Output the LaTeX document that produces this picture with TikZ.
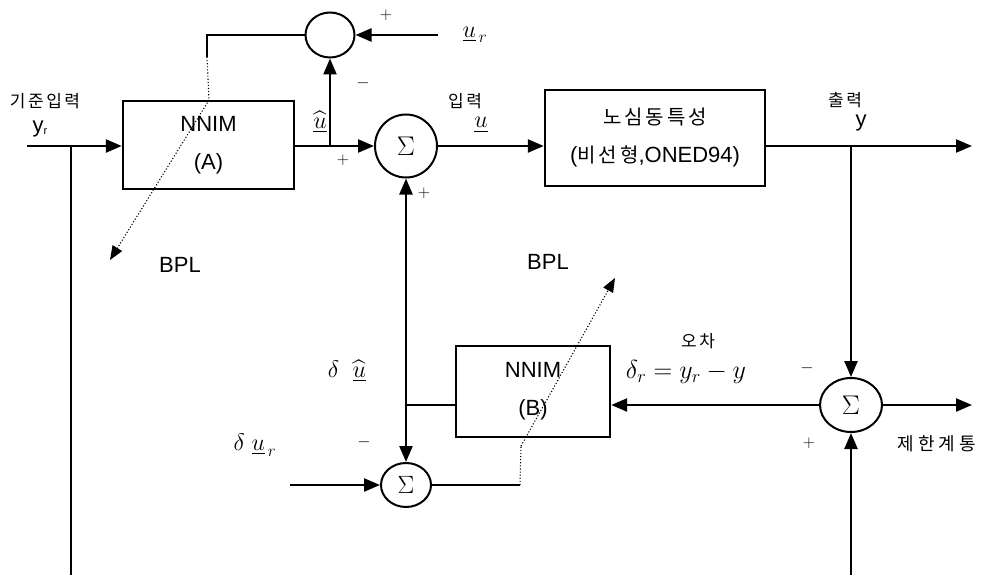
\RequirePackage{fix-cm}
\documentclass[tikz,border=0pt]{standalone}
\usepackage{amsmath,amssymb}
\usepackage{fontspec}
\setsansfont{Liberation Sans}
\newfontfamily\korfont[LetterSpace=15]{Noto Sans CJK KR}
\usetikzlibrary{arrows.meta,shapes.geometric}
\tikzset{
	blockbox/.style={rectangle, draw=black, line width=2.4pt, align=center, inner sep=0pt,
		font=\sffamily\fontsize{22}{38}\selectfont},
	sumnode/.style={ellipse, draw=black, line width=2pt, inner sep=0pt, font=\fontsize{27}{27}\selectfont},
	sigline/.style={line width=2.4pt},
	sigarr/.style={-{Triangle[length=16pt,width=13pt]}, line width=2.4pt},
	bplline/.style={line width=1.1pt, dotted},
	bplarr/.style={-{Triangle[length=14pt,width=11pt]}, line width=1.1pt, dotted},
	korlabel/.style={inner sep=0pt, font=\korfont\fontsize{17}{17}\selectfont},
	sflabel/.style={inner sep=0pt, font=\sffamily\fontsize{22}{22}\selectfont},
	mathlabel/.style={inner sep=0pt, font=\fontsize{24}{24}\selectfont},
	signlabel/.style={inner sep=0pt, font=\fontsize{17}{17}\selectfont}
}

\begin{document}
\begin{tikzpicture}[x=1pt, y=-1pt]
	\useasboundingbox (0,0) rectangle (982,575);
	% blocks
	\node[blockbox, minimum width=171pt, minimum height=88pt] (nnimA) at (208.5,145) {NNIM\\(A)};
	\node[blockbox, minimum width=220pt, minimum height=96pt] (plant) at (655,138)
		{{\korfont\fontsize{20}{20}\selectfont 노심동특성}\\({\korfont\fontsize{20}{20}\selectfont 비선형},ONED94)};
	\node[blockbox, minimum width=154pt, minimum height=91pt] (nnimB) at (533,391.5) {NNIM\\(B)};
	% summing points
	\node[sumnode, minimum width=49pt, minimum height=45pt] (sumtop) at (330,35) {};
	\node[sumnode, minimum width=62pt, minimum height=63pt] (sum1) at (406,146) {$\Sigma$};
	\node[sumnode, minimum width=62pt, minimum height=54pt] (sum2) at (851,405) {$\Sigma$};
	\node[sumnode, minimum width=50pt, minimum height=44pt, font=\fontsize{25}{25}\selectfont] (sum3) at (406,485) {$\Sigma$};
	% branch points and free ends
	\coordinate (yin) at (27,146);
	\coordinate (jA) at (71,146);
	\coordinate (jAbot) at (71,575);
	\coordinate (jU) at (330,146);
	\coordinate (urin) at (438,35);
	\coordinate (jY) at (851,146);
	\coordinate (yout) at (972,146);
	\coordinate (fbout) at (972,405);
	\coordinate (fbbot) at (851,575);
	\coordinate (jB) at (406,405);
	\coordinate (durin) at (290,485);
	\coordinate (fbA) at (207,57);
	\coordinate (bplAs) at (209,100);
	\coordinate (bplAe) at (110,260);
	\coordinate (fbB) at (520,485);
	\coordinate (bplBs) at (521,446);
	\coordinate (bplBe) at (615,278);

	% forward path
	\draw[sigarr] (yin) -- (yin -| nnimA.west);
	\draw[sigline] (jA) -- (jAbot);
	\draw[sigarr] (nnimA.east |- jU) -- (sum1.west);
	\draw[sigarr] (jU) -- (sumtop.south);
	\draw[sigarr] (urin) -- (sumtop.east);
	\draw[sigarr] (sum1.east) -- (sum1.east -| plant.west);
	\draw[sigarr] (plant.east |- yout) -- (yout);
	\draw[sigarr] (jY) -- (sum2.north);
	\draw[sigarr] (fbbot) -- (sum2.south);
	\draw[sigarr] (sum2.east) -- (fbout);
	\draw[sigarr] (sum2.west) -- (sum2.west -| nnimB.east);
	\draw[sigline] (nnimB.west |- jB) -- (jB);
	\draw[sigarr] (jB) -- (sum1.south);
	\draw[sigarr] (jB) -- (sum3.north);
	\draw[sigarr] (durin) -- (sum3.west);
	% learning paths
	\draw[sigline] (sumtop.west) -| (fbA);
	\draw[bplline] (fbA) -- (bplAs);
	\draw[bplarr] (bplAs) -- (bplAe);
	\draw[sigline] (sum3.east) -- (fbB);
	\draw[bplline] (fbB) -- (bplBs);
	\draw[bplarr] (bplBs) -- (bplBe);

	% labels
	\node[korlabel] (lref) at (45,101) {기준입력};
	\node[sflabel] (lyr) at (40,129) {y\raisebox{-0.2ex}{\fontsize{11}{11}\selectfont r}};
	\node[mathlabel] (luhat) at (320,122) {$\widehat{\underline{u}}$};
	\node[signlabel] (pA) at (343,160) {$+$};
	\node[signlabel] (mA) at (363,83) {$-$};
	\node[signlabel] (pT) at (386,15) {$+$};
	\node[mathlabel] (lur) at (475,35) {$\underline{u}_{\,r}$};
	\node[korlabel] (lin) at (465,101) {입력};
	\node[mathlabel] (lu) at (481,125) {$\underline{u}$};
	\node[korlabel] (lout) at (845,100) {출력};
	\node[sflabel] (ly) at (861,123) {y};
	\node[signlabel] (pB) at (424,193) {$+$};
	\node[sflabel] (bplA) at (180,265) {BPL};
	\node[sflabel] (bplB) at (548,262) {BPL};
	\node[mathlabel] (lduhat) at (347,371) {$\delta\;\;\widehat{\underline{u}}$};
	\node[mathlabel] (ldur) at (255,445) {$\delta\;\underline{u}_{\,r}$};
	\node[signlabel] (mB) at (364,442) {$-$};
	\node[korlabel] (lerr) at (698,341) {오차};
	\node[mathlabel, font=\fontsize{26}{26}\selectfont] (lerreq) at (686,372) {$\delta_r = y_r - y$};
	\node[signlabel] (mC) at (807,368) {$-$};
	\node[signlabel] (pC) at (809,443) {$+$};
	\node[korlabel, font=\korfont\fontsize{18}{18}\selectfont\addfontfeature{LetterSpace=22}] (llim) at (937,444) {제한계통};
\end{tikzpicture}
\end{document}
